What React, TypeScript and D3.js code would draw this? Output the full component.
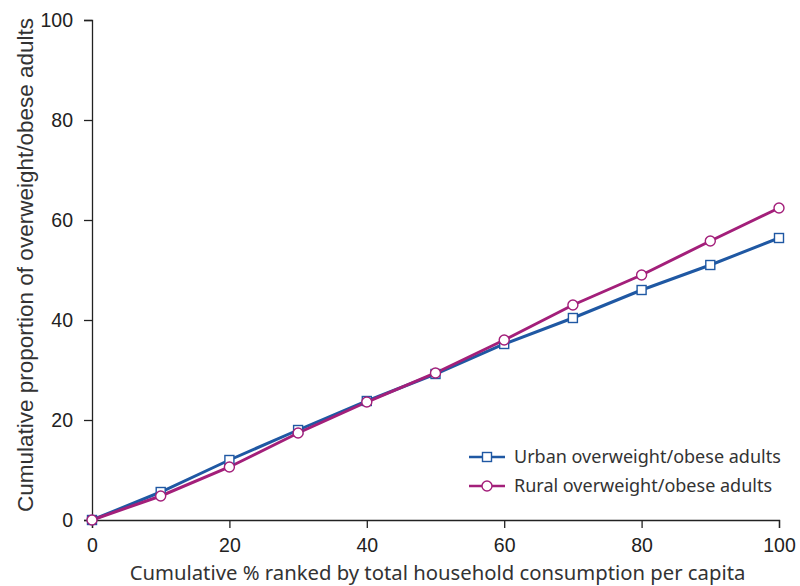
import React, { useRef, useEffect } from 'react';
import * as d3 from 'd3';

// cumulative % of population ranked by consumption
const xValues = [0, 10, 20, 30, 40, 50, 60, 70, 80, 90, 100];
const urbanValues = [0, 5.6, 12, 18, 23.8, 29.2, 35.2, 40.4, 46, 51, 56.4];
const ruralValues = [0, 4.8, 10.6, 17.4, 23.6, 29.4, 36, 43, 49, 55.8, 62.4];
const tickValues = [0, 20, 40, 60, 80, 100];
const seriesNames = ['Urban overweight/obese adults', 'Rural overweight/obese adults'];

const BLUE = '#1f58a3';
const MAGENTA = '#a31f7a';

const App = () => {
    const ref = useRef<SVGSVGElement | null>(null);

    useEffect(() => {
        const margin = { top: 20, right: 21, bottom: 66, left: 92 };
        const width = 800 - margin.left - margin.right;
        const height = 586 - margin.top - margin.bottom;

        const root = d3.select(ref.current);
        root.selectAll('*').remove();
        const svg = root.append('g').attr('transform', `translate(${margin.left},${margin.top})`);

        const x = d3.scaleLinear().domain([0, 100]).range([0, width]);
        const y = d3.scaleLinear().domain([0, 100]).range([height, 0]);

        // axes
        const xAxis = svg.append('g')
            .attr('transform', `translate(0,${height})`)
            .call(d3.axisBottom(x).tickValues(tickValues).tickSize(8).tickPadding(10));
        const yAxis = svg.append('g')
            .call(d3.axisLeft(y).tickValues(tickValues).tickSize(8).tickPadding(11));
        [xAxis, yAxis].forEach(a => {
            a.select('.domain').attr('stroke', '#222').attr('stroke-width', 1.3);
            a.selectAll('.tick line').attr('stroke', '#222').attr('stroke-width', 1.3);
            a.selectAll('.tick text')
                .attr('fill', '#222')
                .style('font-family', '"Liberation Sans", Arial, sans-serif')
                .style('font-size', '19.5px');
        });

        // axis titles
        svg.append('text')
            .attr('x', width / 2 + 2)
            .attr('y', height + 60)
            .attr('text-anchor', 'middle')
            .style('font-family', '"Noto Sans", sans-serif')
            .style('font-size', '20.3px')
            .attr('fill', '#333')
            .text('Cumulative % ranked by total household consumption per capita');
        svg.append('text')
            .attr('transform', 'rotate(-90)')
            .attr('x', -height / 2 + 5)
            .attr('y', -59)
            .attr('text-anchor', 'middle')
            .style('font-family', '"Liberation Sans", Arial, sans-serif')
            .style('font-size', '22.5px')
            .attr('fill', '#333')
            .text('Cumulative proportion of overweight/obese adults');

        const urban = xValues.map((v, i) => ({ x: v, y: urbanValues[i] }));
        const rural = xValues.map((v, i) => ({ x: v, y: ruralValues[i] }));
        const line = d3.line<{ x: number; y: number }>().x(d => x(d.x)).y(d => y(d.y));

        svg.append('path').datum(urban)
            .attr('fill', 'none').attr('stroke', BLUE).attr('stroke-width', 3).attr('d', line);
        svg.append('path').datum(rural)
            .attr('fill', 'none').attr('stroke', MAGENTA).attr('stroke-width', 3).attr('d', line);

        const sq = 9;
        svg.selectAll('.sq').data(urban).enter().append('rect')
            .attr('x', d => x(d.x) - sq / 2).attr('y', d => y(d.y) - sq / 2)
            .attr('width', sq).attr('height', sq)
            .attr('fill', 'white').attr('stroke', BLUE).attr('stroke-width', 1.4);
        svg.selectAll('.ci').data(rural).enter().append('circle')
            .attr('cx', d => x(d.x)).attr('cy', d => y(d.y)).attr('r', 5)
            .attr('fill', 'white').attr('stroke', MAGENTA).attr('stroke-width', 1.4);

        // legend
        const legend = svg.append('g').attr('transform', `translate(${469 - margin.left},${457 - margin.top})`);
        seriesNames.forEach((name, i) => {
            const g = legend.append('g').attr('transform', `translate(0,${i * 29})`);
            const color = i === 0 ? BLUE : MAGENTA;
            g.append('line').attr('x1', 0).attr('x2', 36).attr('y1', 0).attr('y2', 0)
                .attr('stroke', color).attr('stroke-width', 2.5);
            if (i === 0) {
                g.append('rect').attr('x', 18 - sq / 2).attr('y', -sq / 2).attr('width', sq).attr('height', sq)
                    .attr('fill', 'white').attr('stroke', color).attr('stroke-width', 1.4);
            } else {
                g.append('circle').attr('cx', 18).attr('cy', 0).attr('r', 5)
                    .attr('fill', 'white').attr('stroke', color).attr('stroke-width', 1.4);
            }
            g.append('text').attr('x', 45).attr('y', 0).attr('dy', '0.35em')
                .style('font-family', '"Noto Sans", sans-serif')
                .style('font-size', '18px')
                .attr('fill', '#333')
                .text(name);
        });
    }, []);

    return (
        <svg ref={ref} width={800} height={586} style={{ position: 'absolute', left: 0, top: 0 }} />
    );
};

export default App;
